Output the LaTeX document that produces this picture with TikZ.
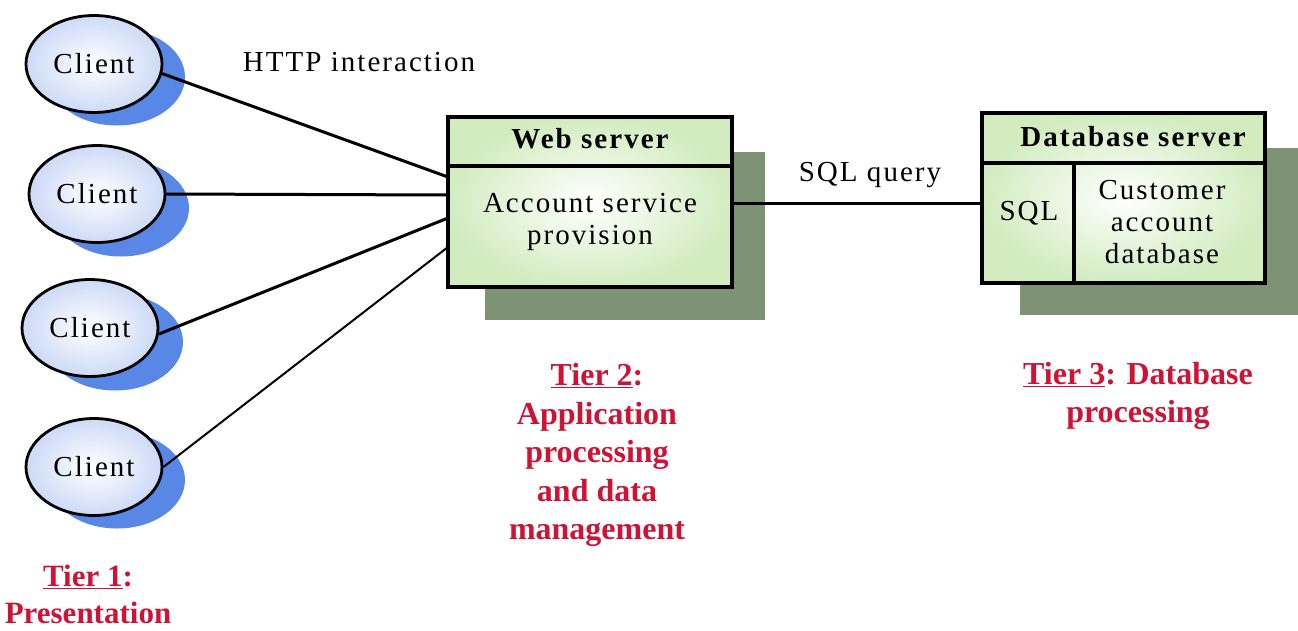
\documentclass[tikz,border=0pt]{standalone}
\usepackage{fontspec}
\setmainfont{Liberation Serif}
\newfontfamily\spacedfont[LetterSpace=7]{Liberation Serif}
\usetikzlibrary{shapes.geometric}
\definecolor{shadowblue}{RGB}{88,135,230}
\definecolor{ellfill}{RGB}{205,218,247}
\definecolor{boxshadow}{RGB}{126,146,116}
\definecolor{boxgreen}{RGB}{210,236,192}
\definecolor{tierred}{RGB}{205,20,55}
\tikzset{
  client/.style={ellipse, draw=black, line width=2.8pt, minimum width=136pt, minimum height=97pt,
    inner color=white, outer color=ellfill, font=\spacedfont\fontsize{29}{32}\selectfont, inner sep=0pt},
  cshadow/.style={ellipse, fill=shadowblue, minimum width=136pt, minimum height=97pt, inner sep=0pt},
  sbox/.style={rectangle, draw=black, line width=3.2pt, inner color=white, outer color=boxgreen, inner sep=0pt},
  bshadow/.style={fill=boxshadow},
  link/.style={line width=3pt, draw=black},
  lbl/.style={font=\spacedfont\fontsize{29}{32}\selectfont, inner sep=0pt},
  hdr/.style={font=\spacedfont\fontsize{29}{32}\selectfont\bfseries, inner sep=0pt},
  tier/.style={font=\fontsize{32}{38.5}\selectfont\bfseries, text=tierred, align=center, inner sep=0pt},
}
\begin{document}
\begin{tikzpicture}[x=1pt,y=-1pt]
\useasboundingbox (0,0) rectangle (1298,630);
% client shadows
\node[cshadow] (s1) at (117,77) {};
\node[cshadow] (s2) at (121,208) {};
\node[cshadow] (s3) at (115,342) {};
\node[cshadow] (s4) at (117,480) {};
% clients
\node[client] (c1) at (94,64) {Client};
\node[client] (c2) at (97,194) {Client};
\node[client] (c3) at (90,328) {Client};
\node[client] (c4) at (94,467) {Client};
% box shadows
\fill[bshadow] (485,152) rectangle (765,320);
\fill[bshadow] (1020,148) rectangle (1298,315);
% web server
\node[sbox, minimum width=284pt, minimum height=170pt] (web) at (590,202) {};
\draw[line width=3.2pt] (448,166) -- (732,166);
\node[hdr] (webh) at (590,139) {Web server};
\node[lbl, align=center] (webt) at (590,222) {Account service\\provision};
% database server
\node[sbox, minimum width=283pt, minimum height=170pt] (db) at (1123.5,198) {};
\draw[line width=3.2pt] (982,163) -- (1265,163);
\draw[line width=3.2pt] (1074,163) -- (1074,283);
\node[hdr] (dbh) at (1133,137) {Database server};
\node[lbl] (sql) at (1029,213) {SQL};
\node[lbl, align=center] (cust) at (1162,222) {Customer\\account\\database};
% connector ends
\coordinate (w1) at (448,177);
\coordinate (w2) at (448,195);
\coordinate (w3) at (448,218);
\coordinate (w4) at (448,247);
\coordinate (we) at (732,203);
\coordinate (de) at (982,203);
\draw[link] (c1.-8) -- (w1);
\draw[link] (c2.east) -- (w2);
\draw[link] (c3.-5) -- (w3);
\draw[link, line width=2pt] (c4.east) -- (w4);
\draw[link] (we) -- (de);
% labels
\node[lbl] (http) at (359,62) {HTTP interaction};
\node[lbl] (sqlq) at (870,175) {SQL query};
% tiers
\node[tier, font=\fontsize{31}{37}\selectfont\bfseries] (t1) at (88,594) {\underline{Tier 1}:\\Presentation};
\node[tier] (t2) at (597,455) {\underline{Tier 2}:\\Application\\processing\\and data\\management};
\node[tier] (t3) at (1138,396) {\underline{Tier 3}: Database\\processing};
\end{tikzpicture}
\end{document}
